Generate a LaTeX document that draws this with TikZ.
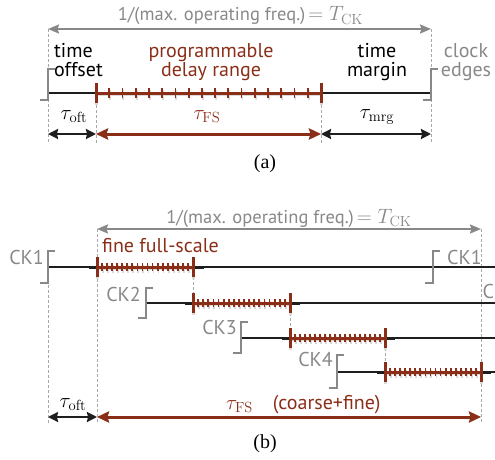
\documentclass[tikz,border=0pt]{standalone}
\usepackage{fontspec}
\setsansfont{PT Sans}
\newfontfamily\captionfont{Liberation Serif}
\usetikzlibrary{arrows.meta}
\definecolor{edgegray}{RGB}{136,136,136}
\definecolor{guidegray}{RGB}{168,168,168}
\definecolor{rangered}{RGB}{139,46,24}
\definecolor{sigblack}{RGB}{30,30,30}
\definecolor{shadowgray}{RGB}{218,218,218}

\tikzset{
  lbl/.style={font=\sffamily\fontsize{20}{16}\selectfont, inner sep=0pt},
  ttl/.style={font=\sffamily\fontsize{18.5}{16}\selectfont, inner sep=0pt},
  mth/.style={font=\fontsize{21}{16}\selectfont, inner sep=0pt},
  capt/.style={font=\captionfont\fontsize{20}{20}\selectfont, inner sep=0pt},
  clk/.style={draw=edgegray, line width=2.8pt, line join=miter},
  sig/.style={draw=sigblack, line width=1.3pt},
  stub/.style={draw=sigblack, line width=3pt},
  guide/.style={draw=guidegray, line width=0.7pt, dash pattern=on 3pt off 2pt},
  period/.style={draw=edgegray, line width=2pt,
    {Stealth[length=11pt,width=9pt,inset=1.5pt]}-{Stealth[length=11pt,width=9pt,inset=1.5pt]}},
  dimblack/.style={draw=sigblack, line width=2pt,
    {Stealth[length=10pt,width=10pt,inset=1pt]}-{Stealth[length=10pt,width=10pt,inset=1pt]}},
  dimred/.style={draw=rangered, line width=3pt,
    {Stealth[length=12pt,width=11pt,inset=1.5pt]}-{Stealth[length=12pt,width=11pt,inset=1.5pt]}},
  dimshadow/.style={draw=shadowgray, line width=3pt, shift={(1.2,2)},
    {Stealth[length=12pt,width=11pt,inset=1.5pt]}-{Stealth[length=12pt,width=11pt,inset=1.5pt]}},
}

% clock edge: x of the rising edge, y of the low level, y of the high level
\newcommand\clkedge[3]{\draw[clk] ({#1-8},#2) -- (#1,#2) -- (#1,#3) -- ({#1+7},#3);}

% delay bar: style, x0, x1, y, intervals, small tick half length, end tick half length
\newcommand\tickbarcore[7]{%
  \draw[line width=3pt,#1] (#2,#4) -- (#3,#4);
  \pgfmathtruncatemacro\nlast{#5-1}%
  \foreach \k in {1,...,\nlast}{%
    \draw[line width=1.8pt,#1] ({#2+\k*(#3-#2)/#5},{#4-#6}) -- ({#2+\k*(#3-#2)/#5},{#4+#6});}
  \draw[line width=3pt,#1] (#2,{#4-#7}) -- (#2,{#4+#7}) (#3,{#4-#7}) -- (#3,{#4+#7});
}
\newcommand\tickbar[6]{%
  \begin{scope}[shift={(0.9,1.5)}]\tickbarcore{draw=shadowgray}{#1}{#2}{#3}{#4}{#5}{#6}\end{scope}
  \tickbarcore{draw=rangered}{#1}{#2}{#3}{#4}{#5}{#6}}

\begin{document}
\begin{tikzpicture}[x=1pt,y=-1pt]
\useasboundingbox (0,0) rectangle (495,460);
\clip (0,0) rectangle (495,460);

% ---------------- (a) single delay line ----------------
\coordinate (aPL) at (48,29);  \coordinate (aPR) at (431,29);
\coordinate (aL) at (48,134);  \coordinate (aS) at (96,134);
\coordinate (aE) at (321,134); \coordinate (aR) at (431,134);

\draw[guide] (48,29) -- (48,143);
\draw[guide] (96,100) -- (96,143);
\draw[guide] (321,100) -- (321,143);
\draw[guide] (431,29) -- (431,143);

\draw[period] (aPL) -- (aPR);
\node[ttl, text=edgegray, anchor=base] (atitle) at (240.5,21)
  {1/(max. operating freq.)\,{\fontsize{21}{16}\selectfont$=T_{\mathrm{CK}}$}};

\draw[sig] (48,93) -- (431,93);
\clkedge{48}{100}{69}
\clkedge{431}{100}{69}
\tickbar{96}{321}{93}{17}{5}{10}

\node[lbl, anchor=base west] (aoffset) at (54,57.5)
  {\begin{tabular}[t]{@{}l@{}}time\\offset\end{tabular}};
\node[lbl, text=rangered, anchor=base] (arange) at (211,57.5)
  {\begin{tabular}[t]{@{}c@{}}programmable\\delay range\end{tabular}};
\node[lbl, anchor=base] (amargin) at (377,57.5)
  {\begin{tabular}[t]{@{}c@{}}time\\margin\end{tabular}};
\node[lbl, text=edgegray, anchor=base] (aedges) at (466,57.5)
  {\begin{tabular}[t]{@{}c@{}}clock\\edges\end{tabular}};

\node[mth, anchor=base] (atoft) at (74,119) {$\tau_{\mathrm{oft}}$};
\node[mth, text=rangered, anchor=base] (atfs) at (207,119) {$\tau_{\mathrm{FS}}$};
\node[mth, anchor=base] (atmrg) at (377,118) {$\tau_{\mathrm{mrg}}$};

\draw[dimshadow] (aS) -- (aE);
\draw[dimblack] (aL) -- (aS);
\draw[dimred] (aS) -- (aE);
\draw[dimblack] (aE) -- (aR);

\node[capt, anchor=base] (acap) at (265,168) {(a)};

% ---------------- (b) four interleaved delay lines ----------------
\coordinate (bPL) at (97,229); \coordinate (bPR) at (481,229);
\coordinate (bL) at (48,417);  \coordinate (bS) at (97,417);
\coordinate (bR) at (481,417);

\draw[guide] (48,285) -- (48,423);
\draw[guide] (97,229) -- (97,423);
\draw[guide] (481,229) -- (481,423);
\draw[guide] (193,277) -- (193,293);
\draw[guide] (290,313) -- (290,328);
\draw[guide] (385,348) -- (385,362);

\draw[period] (bPL) -- (bPR);
\node[ttl, text=edgegray, anchor=base] (btitle) at (289,223)
  {1/(max. operating freq.)\,{\fontsize{21}{16}\selectfont$=T_{\mathrm{CK}}$}};

% CK1
\draw[sig] (48,267) -- (495,267);
\clkedge{48}{283}{251}
\clkedge{433}{283}{251}
\draw[stub] (89,267) -- (204,267);
\tickbar{97}{193}{267}{19}{4}{10}
\node[lbl, text=edgegray, anchor=base east] (ckA) at (44,264) {CK1};
\node[lbl, text=edgegray, anchor=base west] (ckAr) at (447,264) {CK1};
\node[lbl, text=rangered, anchor=base west] (bfine) at (102,252) {fine full-scale};

% CK2
\draw[sig] (146,303) -- (495,303);
\clkedge{146}{318}{288}
\draw[stub] (185,303) -- (300,303);
\tickbar{193}{290}{303}{19}{4}{10}
\node[lbl, text=edgegray, anchor=base east] (ckB) at (141,301) {CK2};
\node[lbl, text=edgegray, anchor=base west] (ckBr) at (482.5,298) {CK2};

% CK3
\draw[sig] (241,338) -- (495,338);
\clkedge{241}{353}{322}
\draw[stub] (282,338) -- (395,338);
\tickbar{290}{385}{338}{19}{4}{10}
\node[lbl, text=edgegray, anchor=base east] (ckC) at (237,334) {CK3};

% CK4
\draw[sig] (337,372) -- (495,372);
\clkedge{337}{388}{355}
\draw[stub] (377,372) -- (491,372);
\tickbar{385}{481}{372}{19}{4}{10}
\node[lbl, text=edgegray, anchor=base east] (ckD) at (333,366.5) {CK4};

% ranges
\node[mth, anchor=base] (btoft) at (73,407) {$\tau_{\mathrm{oft}}$};
\node[mth, text=rangered, anchor=base west] (btfs) at (226,409)
  {$\tau_{\mathrm{FS}}$\hspace{20pt}{\sffamily\fontsize{20}{16}\selectfont(coarse+fine)}};

\draw[dimshadow] (bS) -- (bR);
\draw[dimblack] (bL) -- (bS);
\draw[dimred] (bS) -- (bR);

\node[capt, anchor=base] (bcap) at (265,448) {(b)};
\end{tikzpicture}
\end{document}
